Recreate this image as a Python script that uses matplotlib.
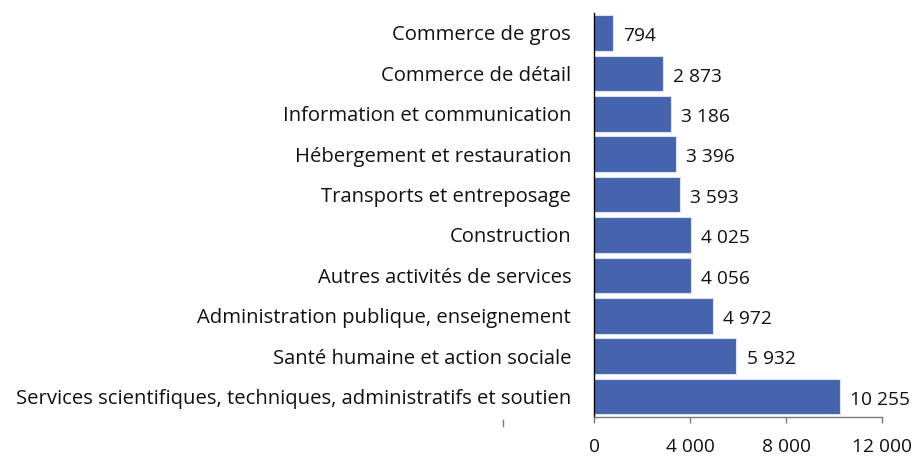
import matplotlib
matplotlib.use("Agg")
import matplotlib.pyplot as plt
from matplotlib.lines import Line2D

plt.rcParams['font.family'] = ['Open Sans', 'DejaVu Sans']

secteurs = [
    "Commerce de gros",
    "Commerce de détail",
    "Information et communication",
    "Hébergement et restauration",
    "Transports et entreposage",
    "Construction",
    "Autres activités de services",
    "Administration publique, enseignement",
    "Santé humaine et action sociale",
    "Services scientifiques, techniques, administratifs et soutien",
]
valeurs = [794, 2873, 3186, 3396, 3593, 4025, 4056, 4972, 5932, 10255]
xticks = [0, 4000, 8000, 12000]


def fr(n):
    return f"{n:,}".replace(",", " ")


fig = plt.figure(figsize=(9.14, 4.57), dpi=100)
ax = fig.add_axes([0.65, 0.088, 0.315, 0.884])

pos = list(range(len(secteurs)))
ax.barh(pos, valeurs, height=0.88, color="#4664ae", edgecolor="#dbe3f3",
        linewidth=0.8, zorder=2)
ax.set_ylim(len(secteurs) - 0.5, -0.5)
ax.set_xlim(0, 12000)

ax.set_yticks(pos)
ax.set_yticklabels(secteurs, fontsize=14.6, color="#111111")
ax.tick_params(axis="y", length=0, pad=16.5)

ax.set_xticks(xticks)
ax.set_xticklabels([fr(v) for v in xticks], fontsize=13.8, color="#111111")
ax.tick_params(axis="x", direction="out", length=4.5, width=1, color="#777777", pad=11)

for y, v in zip(pos, valeurs):
    ax.text(v + 420, y + 0.08, fr(v), va="center", ha="left", fontsize=13.8,
            color="#111111")

for s in ("top", "right"):
    ax.spines[s].set_visible(False)
ax.spines["left"].set_color("black")
ax.spines["left"].set_linewidth(1.0)
ax.spines["bottom"].set_color("#777777")
ax.spines["bottom"].set_linewidth(1.0)

fig.add_artist(Line2D([503 / 914, 503 / 914], [1 - 420 / 457, 1 - 426 / 457],
                      color="#777777", linewidth=1.0))

fig.savefig("out.png", dpi=100, facecolor="white")
